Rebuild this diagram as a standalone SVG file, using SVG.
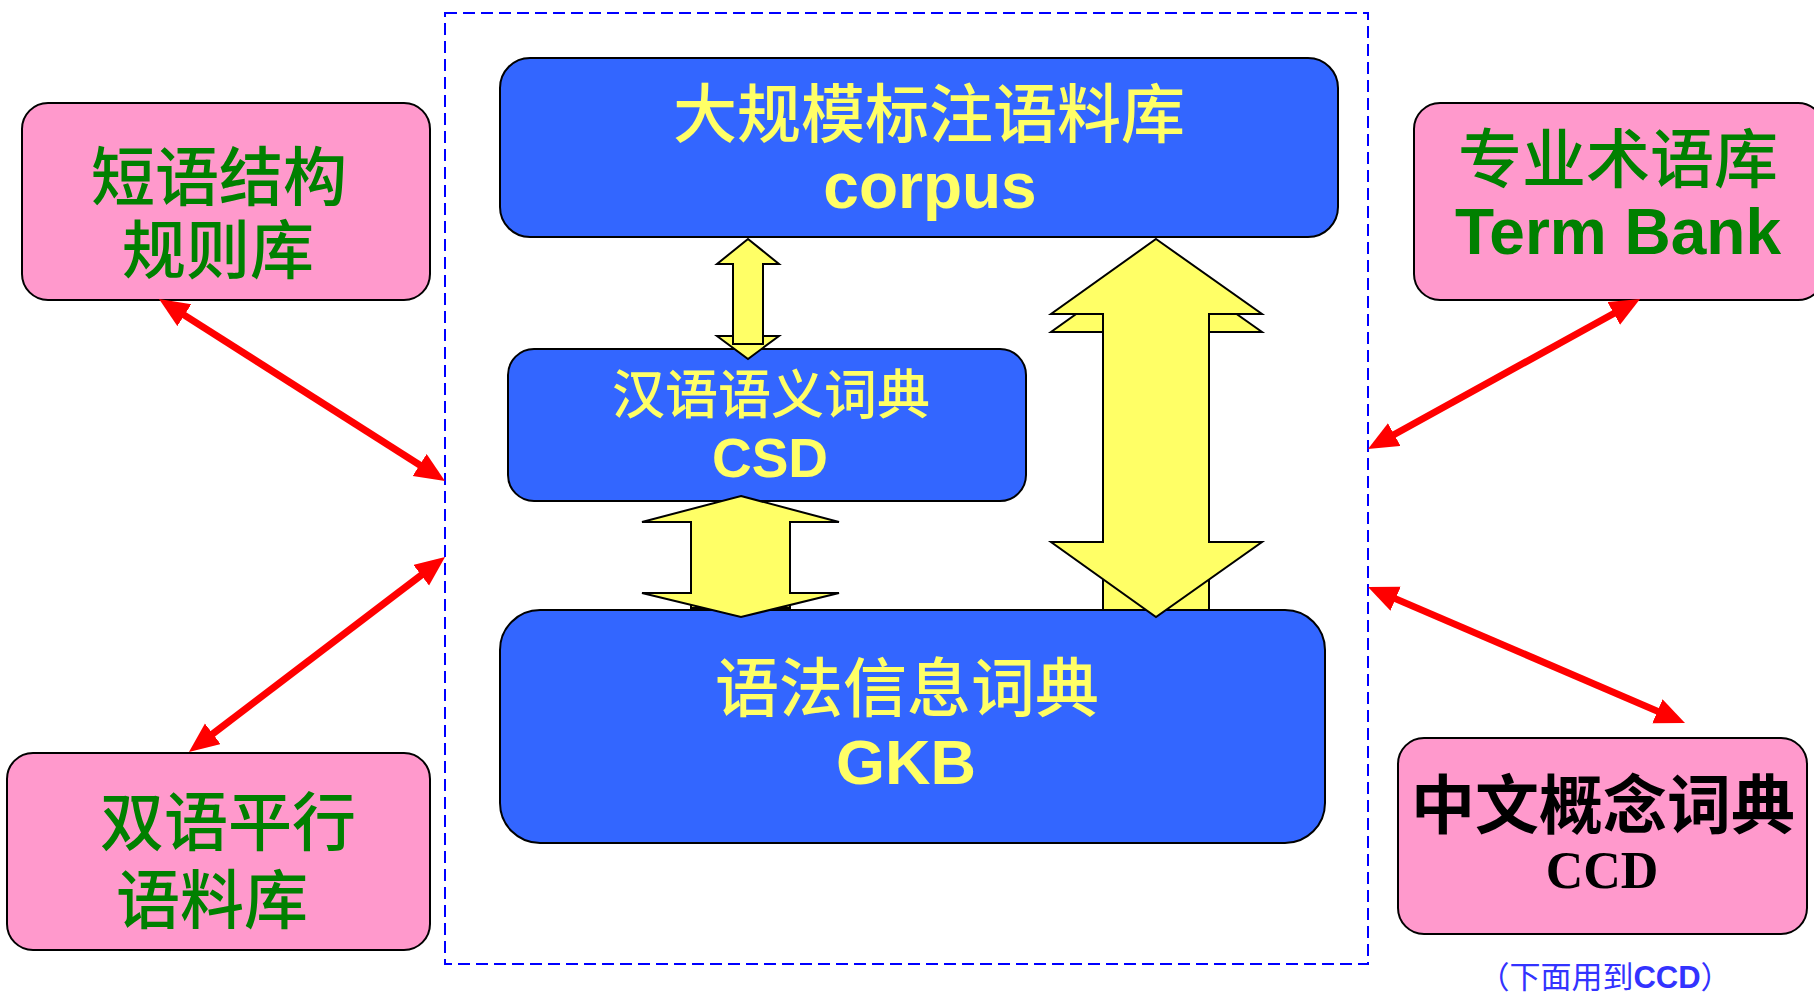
<svg xmlns="http://www.w3.org/2000/svg" width="1814" height="994" viewBox="0 0 1814 994">
<style>
.blue{fill:#3366ff;stroke:#000;stroke-width:2}
.pink{fill:#ff99cc;stroke:#000;stroke-width:2}
.yarr{fill:#ffff66;stroke:#000;stroke-width:2;stroke-linejoin:miter}
.cjk{font-family:"Noto Sans CJK SC","Liberation Sans",sans-serif;text-anchor:middle}
.lat{font-family:"Liberation Sans",Arial,sans-serif;font-weight:bold;text-anchor:middle}
.yel{fill:#ffff66}
.grn{fill:#008000}
.red{stroke:#ff0000;stroke-width:7;fill:none}
</style>
<defs>
<marker id="rh" markerUnits="userSpaceOnUse" markerWidth="32" markerHeight="28" refX="15" refY="13" orient="auto-start-reverse">
<path d="M0,0 L30,13 L0,26 z" fill="#ff0000"/>
</marker>
</defs>
<rect width="1814" height="994" fill="#ffffff"/>
<g id="frame">
<rect x="445" y="13" width="923" height="951" fill="none" stroke="#0000ff" stroke-width="2" stroke-dasharray="12,6"/>
</g>
<g id="corpus">
<rect class="blue" x="500" y="58" width="838" height="179" rx="30" ry="30"/>
<text class="cjk yel" x="929" y="137" font-size="64" font-weight="500">大规模标注语料库</text>
<text class="lat yel" x="930" y="208" font-size="64">corpus</text>
</g>
<g id="csd">
<rect class="blue" x="508" y="349" width="518" height="152" rx="26" ry="26"/>
<text class="cjk yel" x="771" y="414" font-size="53" font-weight="500">汉语语义词典</text>
<text class="lat yel" x="770" y="477" font-size="55">CSD</text>
</g>
<g id="gkb">
<rect class="blue" x="500" y="610" width="825" height="233" rx="40" ry="40"/>
<text class="cjk yel" x="907" y="711" font-size="64" font-weight="500">语法信息词典</text>
<text class="lat yel" x="906" y="784" font-size="63">GKB</text>
</g>
<g id="phrase-rules">
<rect class="pink" x="22" y="103" width="408" height="197" rx="26" ry="26"/>
<text class="cjk grn" x="219" y="200" font-size="64" font-weight="500">短语结构</text>
<text class="cjk grn" x="218" y="273" font-size="64" font-weight="500">规则库</text>
</g>
<g id="term-bank">
<rect class="pink" x="1414" y="103" width="410" height="197" rx="26" ry="26"/>
<text class="cjk grn" x="1618" y="182" font-size="64" font-weight="500">专业术语库</text>
<text class="lat grn" x="1618" y="254" font-size="64">Term Bank</text>
</g>
<g id="parallel-corpus">
<rect class="pink" x="7" y="753" width="423" height="197" rx="26" ry="26"/>
<text class="cjk grn" x="228" y="845" font-size="64" font-weight="500">双语平行</text>
<text class="cjk grn" x="212" y="923" font-size="64" font-weight="500">语料库</text>
</g>
<g id="ccd">
<rect class="pink" x="1398" y="738" width="409" height="196" rx="26" ry="26"/>
<text class="cjk" x="1603" y="828" font-size="64" font-weight="bold" fill="#000">中文概念词典</text>
<text x="1602" y="888" font-size="52" font-weight="bold" fill="#000" text-anchor="middle" font-family="'Liberation Serif','Times New Roman',serif">CCD</text>
</g>
<g id="note">
<text x="1605" y="988" font-size="31" fill="#3333ff" text-anchor="middle" font-family="'Noto Sans CJK SC',sans-serif">（下面用到<tspan font-family="'Liberation Sans',Arial,sans-serif" font-weight="bold">CCD</tspan>）</text>
</g>
<g id="connectors">
<polygon class="yarr" points="717,336 779,336 748,359"/>
<polygon class="yarr" points="748,239 779,264 763,264 763,344 733,344 733,264 717,264"/>
<polygon class="yarr" points="741,496 839,522 790,522 790,608 691,608 691,522 642,522"/>
<path class="yarr" d="M691,585 L691,593 L642,593 L741,617 L839,593 L790,593 L790,585"/>
<polygon class="yarr" points="1156,257 1262,332 1051,332"/>
<polygon class="yarr" points="1156,239 1262,314 1209,314 1209,610 1103,610 1103,314 1051,314"/>
<path class="yarr" d="M1103,530 L1103,542 L1051,542 L1156,617 L1262,542 L1209,542 L1209,530"/>
<line class="red" x1="171.7" y1="307.1" x2="432.3" y2="473.0" marker-start="url(#rh)" marker-end="url(#rh)"/>
<line class="red" x1="433.1" y1="566.1" x2="200.9" y2="742.9" marker-start="url(#rh)" marker-end="url(#rh)"/>
<line class="red" x1="1626.9" y1="306.2" x2="1381.1" y2="441.8" marker-start="url(#rh)" marker-end="url(#rh)"/>
<line class="red" x1="1381.8" y1="592.9" x2="1671.2" y2="717.1" marker-start="url(#rh)" marker-end="url(#rh)"/>
</g>
</svg>
